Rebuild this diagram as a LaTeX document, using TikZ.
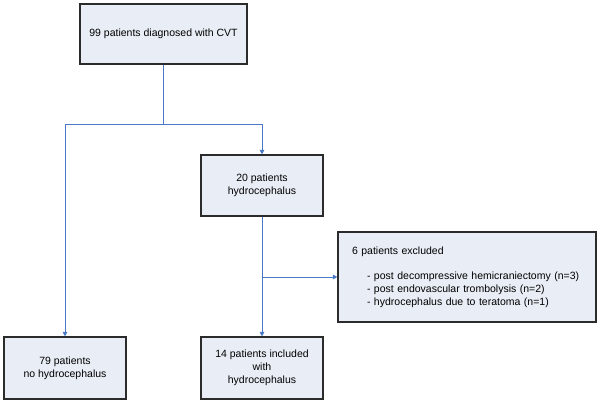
\documentclass[tikz,border=0pt]{standalone}
\usepackage{fontspec}
\setmainfont{Liberation Sans}
\usetikzlibrary{arrows.meta}
\definecolor{boxfill}{HTML}{E9EEF6}
\definecolor{boxline}{HTML}{2B2B2B}
\definecolor{conn}{HTML}{4A78C8}
\tikzset{
  flowbox/.style={draw=boxline, line width=1.1pt, fill=boxfill, align=center,
    font=\fontsize{10.5}{12.8}\selectfont, inner sep=2pt},
  link/.style={draw=conn, line width=0.9pt},
  arrowlink/.style={link, -{Triangle[length=4.5pt,width=4.5pt]}}
}
\begin{document}
\begin{tikzpicture}[x=1pt,y=-1pt]
\useasboundingbox (0,0) rectangle (600,403);
\node[flowbox, minimum width=167pt, minimum height=60pt] (b1) at (163.5,34) {99 patients diagnosed with CVT};
\node[flowbox, minimum width=122pt, minimum height=61pt] (b20) at (262,185.5) {20 patients\\hydrocephalus};
\node[flowbox, minimum width=122pt, minimum height=62pt] (b79) at (65,368) {79 patients\\no hydrocephalus};
\node[flowbox, minimum width=122pt, minimum height=62pt] (b14) at (262,368) {14 patients included\\with\\hydrocephalus};
\node[flowbox, align=left, text width=230pt, inner xsep=14pt, minimum height=90pt] (excl) at (467,277)
  {6 patients excluded\\[12.8pt]
   \hspace*{15pt}- post decompressive hemicraniectomy (n=3)\\
   \hspace*{15pt}- post endovascular trombolysis (n=2)\\
   \hspace*{15pt}- hydrocephalus due to teratoma (n=1)};
\coordinate (split) at (b1.south |- 0,124.3);
\coordinate (split2) at (b20.south |- 0,277);
\draw[link] (b1.south) -- (split);
\draw[arrowlink] (split) -| (b79.north);
\draw[arrowlink] (split) -| (b20.north);
\draw[arrowlink] (b20.south) -- (b14.north);
\draw[arrowlink] (split2) -- (excl.west);
\end{tikzpicture}
\end{document}
